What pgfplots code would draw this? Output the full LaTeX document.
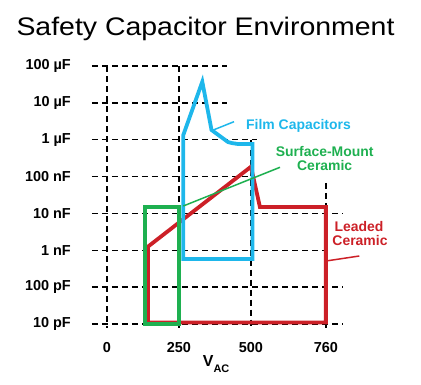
\documentclass[border=0pt]{standalone}
\usepackage{pgfplots}
\pgfplotsset{compat=1.18}
\usepackage{fontspec}
\setmainfont{Liberation Sans}
\usepackage{graphicx}
\definecolor{filmblue}{RGB}{30,183,235}
\definecolor{smdgreen}{RGB}{30,176,80}
\definecolor{leadred}{RGB}{204,32,39}
\newcommand{\tickfont}{\fontsize{14.5}{17}\selectfont\bfseries}
\newcommand{\labfont}{\fontsize{14}{16}\selectfont\bfseries}
\tikzset{
  gridline/.style={black, line width=1.4bp, dash pattern=on 6bp off 4bp},
  thickline/.style={line width=3.8bp, line join=miter, miter limit=10},
}
\begin{document}
\begin{tikzpicture}
\begin{axis}[name=ax, at={(0,0)}, anchor=south west,
  scale only axis, width=250.85bp, height=263.7bp,
  xmin=-52, xmax=819, ymode=log, ymin=7e-12, ymax=1e-4,
  clip=false, axis line style={draw=none}, tick style={draw=none},
  major tick length=0pt, minor tick length=0pt,
  xtick={0,250,500,760}, xticklabels={0,250,500,760},
  ytick={1e-11,1e-10,1e-9,1e-8,1e-7,1e-6,1e-5,1e-4},
  yticklabels={10 pF,100 pF,1 nF,10 nF,100 nF,1 µF,10 µF,100 µF},
  xticklabel style={anchor=north, inner sep=0pt, yshift=-13bp, font=\tickfont},
  yticklabel style={anchor=east, inner sep=0pt, xshift=-21bp, font=\tickfont},
]
% grid
\draw[gridline] (axis cs:-52,1e-4) -- (axis cs:417,1e-4);
\draw[gridline] (axis cs:-52,1e-5) -- (axis cs:417,1e-5);
\draw[gridline] (axis cs:-52,1e-6) -- (axis cs:521,1e-6);
\draw[gridline] (axis cs:-52,1e-7) -- (axis cs:500,1e-7);
\draw[gridline] (axis cs:-52,1e-8) -- (axis cs:819,1e-8);
\draw[gridline] (axis cs:-52,1e-9) -- (axis cs:760,1e-9);
\draw[gridline] (axis cs:-52,1e-10) -- (axis cs:819,1e-10);
\draw[gridline] (axis cs:-52,1e-11) -- (axis cs:819,1e-11);
\draw[gridline] (axis cs:0,1e-4) -- (axis cs:0,7.8e-12);
\draw[gridline] (axis cs:250,1e-4) -- (axis cs:250,7.8e-12);
\draw[gridline] (axis cs:500,1e-6) -- (axis cs:500,7.8e-12);
\draw[gridline] (axis cs:760,6.7e-8) -- (axis cs:760,7.8e-12);
% Leaded ceramic
\addplot[leadred, thickline] coordinates {
 (142,1.1e-11) (142,1.25e-9) (500,1.85e-7) (531,1.5e-8) (760,1.5e-8) (760,1.1e-11)} -- cycle;
% Surface-mount ceramic
\addplot[smdgreen, thickline] coordinates {
 (132,1e-11) (132,1.5e-8) (250,1.5e-8) (250,1e-11)} -- cycle;
% Film capacitors
\addplot[filmblue, thickline] coordinates {
 (265,5.8e-10) (265,1.34e-6) (331,3.75e-5) (363,1.84e-6) (420,8.67e-7)
 (434,8.1e-7) (455,7.65e-7) (505,7.6e-7) (505,5.8e-10)} -- cycle;
\end{axis}
\begin{scope}[shift={(ax.south west)}, xshift=-92bp, yshift=329.7bp, x=1bp, y=-1bp]
\node[anchor=base, inner sep=0pt] at (205.5,35)
  {\scalebox{1.12}[1]{\fontsize{25.5}{30}\selectfont Safety Capacitor Environment}};
\draw[filmblue, line width=1.5bp] (213.3,130) -- (234,121.7);
\node[anchor=base west, inner sep=0pt, text=filmblue] at (246,129) {\labfont Film Capacitors};
\draw[smdgreen, line width=1.5bp] (183.3,206) -- (280,167.3);
\node[anchor=base, inner sep=0pt, text=smdgreen] at (324.7,156) {\labfont Surface-Mount};
\node[anchor=base, inner sep=0pt, text=smdgreen] at (324.7,170.7) {\labfont Ceramic};
\draw[leadred, line width=1.5bp] (326,261) -- (359.3,256);
\node[anchor=base, inner sep=0pt, text=leadred] at (359,231) {\labfont Leaded};
\node[anchor=base, inner sep=0pt, text=leadred] at (360,245.7) {\labfont Ceramic};
\node[anchor=base west, inner sep=0pt] at (202.7,366.7)
  {\fontsize{16}{18}\selectfont\bfseries V\raisebox{-5.6bp}{\fontsize{11}{13}\selectfont AC}};
\pgfresetboundingbox
\path[use as bounding box] (0,0) rectangle (421,385);
\end{scope}
\end{tikzpicture}
\end{document}
